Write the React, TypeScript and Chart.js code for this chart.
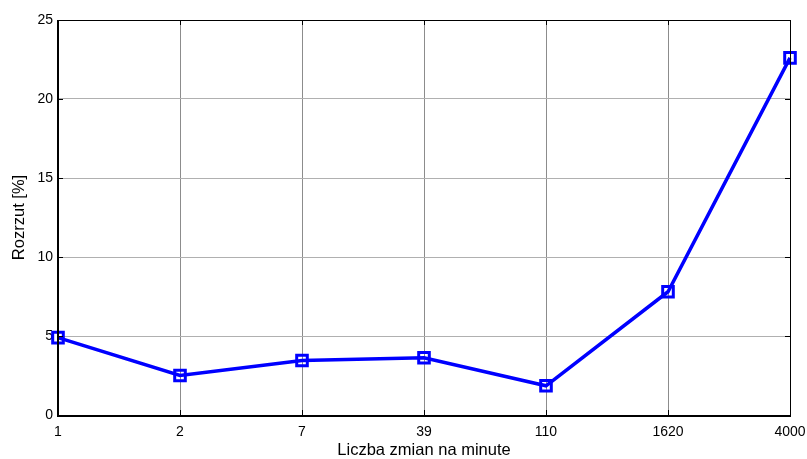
import React, { useEffect, useRef } from "react";
import { Chart, registerables } from "chart.js";

Chart.register(...registerables);

const categories = ["1", "2", "7", "39", "110", "1620", "4000"];
const rozrzut = [4.9, 2.5, 3.45, 3.62, 1.85, 7.8, 22.6];
const yTicks = [0, 5, 10, 15, 20, 25];

const FONT = "'Liberation Sans', Arial, sans-serif";

const frame = {
  id: "frame",
  afterDatasetsDraw(chart: any) {
    const { ctx, chartArea: a, scales } = chart;
    ctx.save();
    ctx.strokeStyle = "#000";
    ctx.lineWidth = 1;
    const tl = 5;
    categories.forEach((_, i) => {
      const x = Math.round(scales.x.getPixelForValue(i)) + 0.5;
      ctx.beginPath();
      ctx.moveTo(x, a.bottom);
      ctx.lineTo(x, a.bottom - tl);
      ctx.moveTo(x, a.top);
      ctx.lineTo(x, a.top + tl);
      ctx.stroke();
    });
    yTicks.forEach((v) => {
      const y = Math.round(scales.y.getPixelForValue(v)) + 0.5;
      ctx.beginPath();
      ctx.moveTo(a.left, y);
      ctx.lineTo(a.left + tl, y);
      ctx.moveTo(a.right, y);
      ctx.lineTo(a.right - tl, y);
      ctx.stroke();
    });
    ctx.beginPath();
    ctx.moveTo(a.left, a.top + 0.5);
    ctx.lineTo(a.right + 0.5, a.top + 0.5);
    ctx.lineTo(a.right + 0.5, a.bottom);
    ctx.stroke();
    ctx.lineWidth = 2;
    ctx.beginPath();
    ctx.moveTo(a.left, a.top);
    ctx.lineTo(a.left, a.bottom + 1);
    ctx.lineTo(a.right + 1, a.bottom + 1);
    ctx.stroke();
    ctx.restore();
  },
};

export default function App() {
  const ref = useRef<HTMLCanvasElement>(null);
  useEffect(() => {
    document.body.style.margin = "0";
    const chart = new Chart(ref.current!, {
      type: "line",
      data: {
        labels: categories,
        datasets: [
          {
            data: rozrzut,
            borderColor: "#0000ff",
            borderWidth: 3.5,
            pointStyle: "rect",
            pointRadius: 7.5,
            pointBorderWidth: 3,
            pointBorderColor: "#0000ff",
            pointBackgroundColor: "rgba(0,0,0,0)",
            tension: 0,
          },
        ],
      },
      options: {
        responsive: false,
        animation: false,
        layout: { padding: { top: 20, right: 17, left: 10, bottom: 0 } },
        plugins: { legend: { display: false }, tooltip: { enabled: false } },
        scales: {
          x: {
            type: "category",
            offset: false,
            grid: { color: "#8c8c8c", lineWidth: 1, drawTicks: false },
            border: { display: false },
            ticks: { color: "#000", font: { family: FONT, size: 14 }, padding: 9, maxRotation: 0, autoSkip: false },
            title: { display: true, text: "Liczba zmian na minute", color: "#000", font: { family: FONT, size: 16.5, lineHeight: 1 }, padding: { top: 2, bottom: 0 } },
            afterFit: (s: any) => { s.height = 44; s.paddingLeft = 0; s.paddingRight = 0; },
          },
          y: {
            min: 0,
            max: 25,
            afterBuildTicks: (s: any) => { s.ticks = yTicks.map((v) => ({ value: v })); },
            grid: { color: "#b0b0b0", lineWidth: 1, drawTicks: false },
            border: { display: false },
            ticks: { color: "#000", font: { family: FONT, size: 14 }, padding: 5 },
            title: { display: true, text: "Rozrzut [%]", color: "#000", font: { family: FONT, size: 16.5 }, padding: { top: 0, bottom: 0 } },
            afterFit: (s: any) => { s.width = 48; s.paddingTop = 0; s.paddingBottom = 0; },
          },
        },
      },
      plugins: [frame],
    });
    return () => chart.destroy();
  }, []);
  return (
    <div style={{ width: 807, height: 459, background: "#fff" }}>
      <canvas ref={ref} width={807} height={459} />
    </div>
  );
}
